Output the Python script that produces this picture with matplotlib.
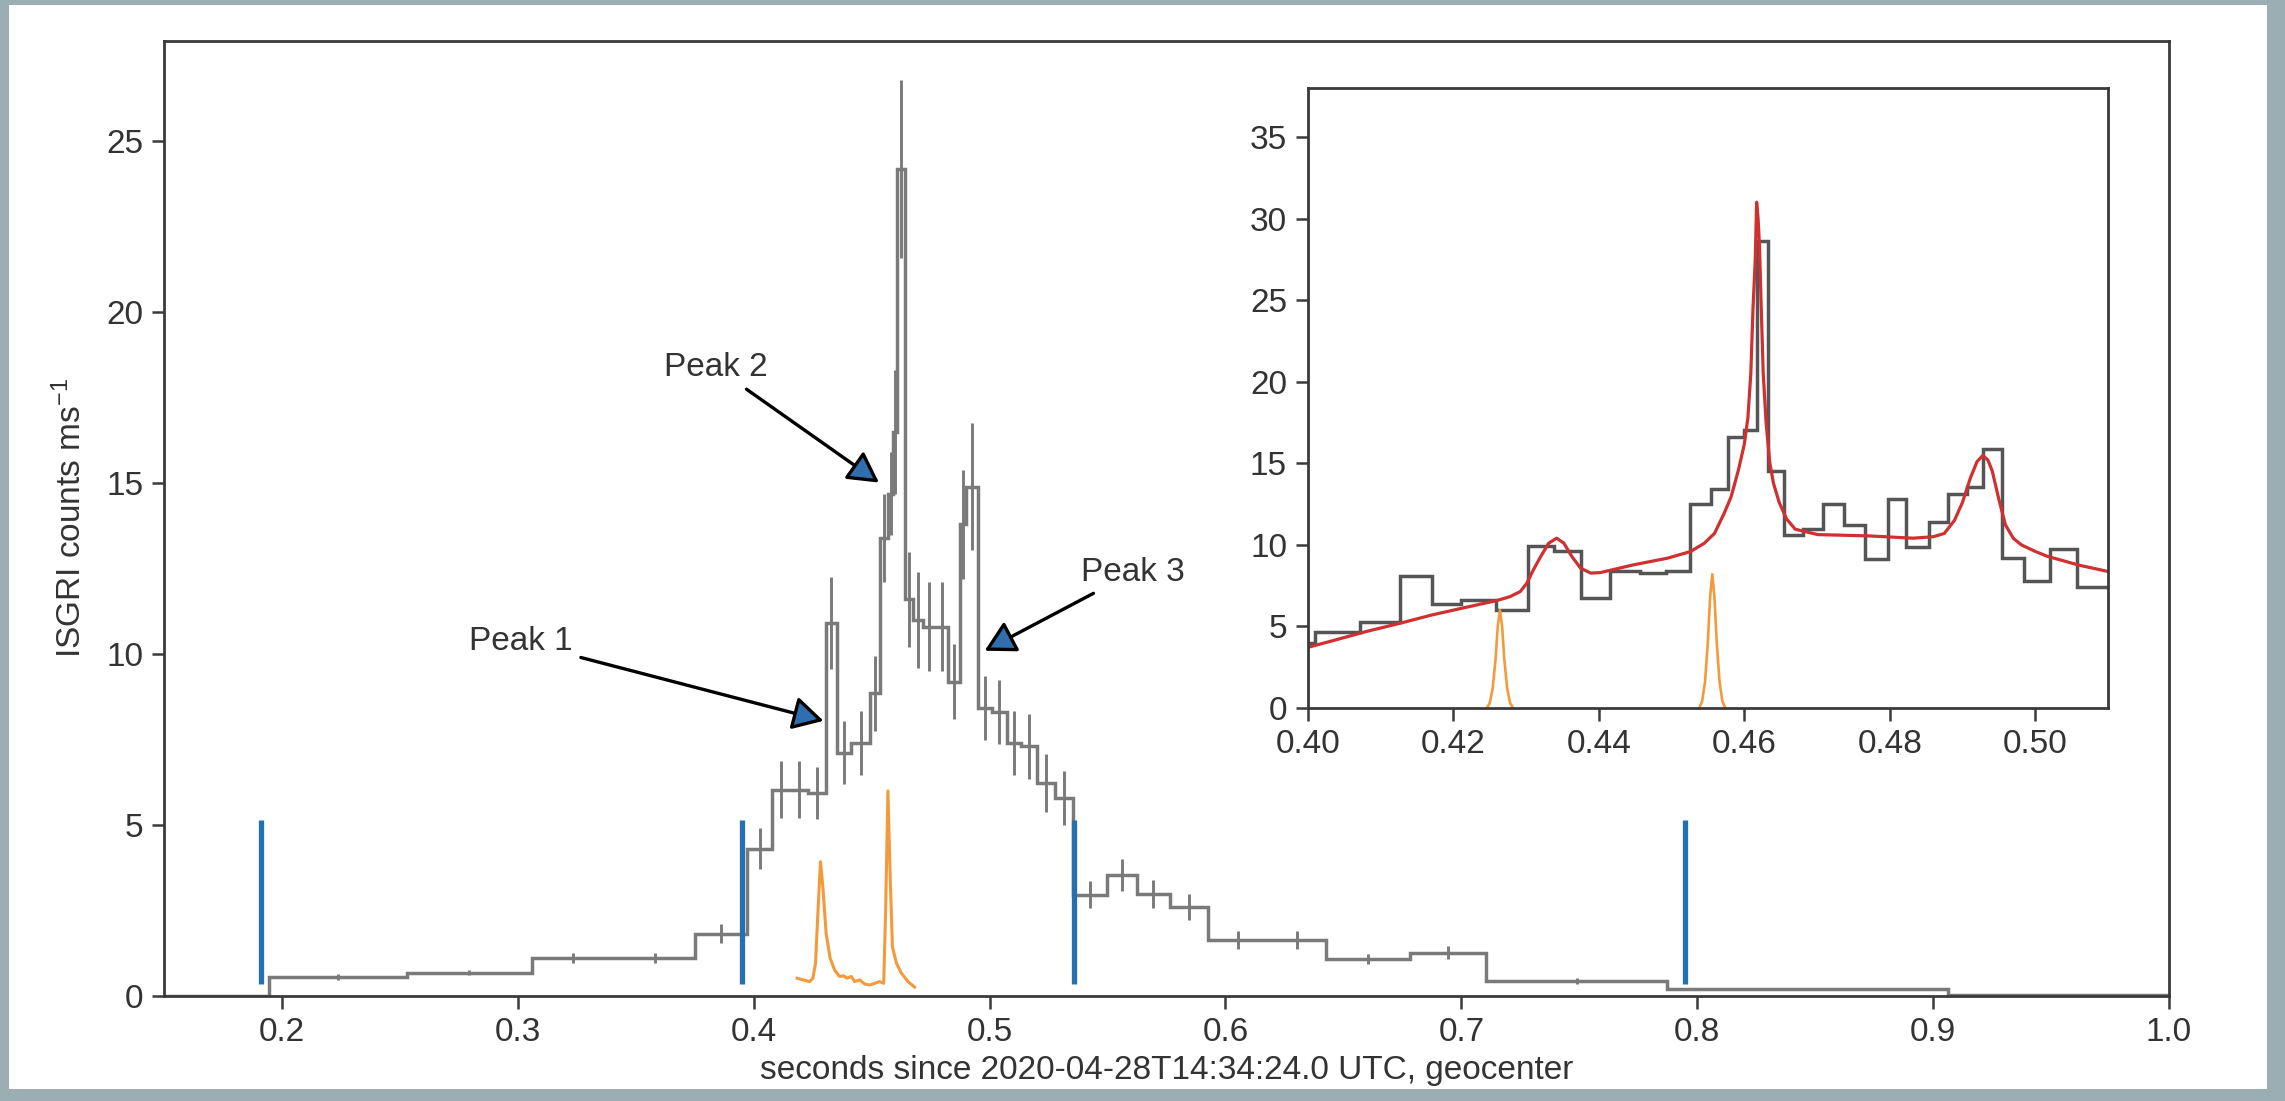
import matplotlib
matplotlib.use("Agg")
import matplotlib.pyplot as plt
from matplotlib.patches import Rectangle
import numpy as np

plt.rcParams['font.family'] = ['Liberation Sans', 'DejaVu Sans']
plt.rcParams['mathtext.fontset'] = 'custom'
plt.rcParams['mathtext.rm'] = 'Liberation Sans'
plt.rcParams['mathtext.it'] = 'Liberation Sans:italic'
plt.rcParams['mathtext.bf'] = 'Liberation Sans:bold'

# ISGRI light curve (variable width blocks)
edges = [0.140, 0.1945, 0.2528, 0.3058, 0.341, 0.375, 0.397, 0.4079, 0.4153,
         0.4231, 0.4305, 0.4351, 0.4414, 0.4492, 0.4534, 0.4570, 0.4592, 0.4609,
         0.4643, 0.4676, 0.4718, 0.4772, 0.4824, 0.4874, 0.4901, 0.4951, 0.5010,
         0.5072, 0.5132, 0.5199, 0.5277, 0.5354, 0.5496, 0.5623, 0.5764, 0.5927,
         0.6178, 0.6426, 0.6782, 0.7104, 0.7874, 0.9064, 1.02]
rate = [0.0, 0.56, 0.68, 1.10, 1.10, 1.82, 4.30, 6.03, 6.03, 5.95, 10.92, 7.12,
        7.40, 8.86, 13.4, 14.7, 16.5, 24.2, 11.6, 11.0, 10.8, 10.8, 9.2, 13.8,
        14.9, 8.42, 8.3, 7.4, 7.3, 6.22, 5.79, 2.96, 3.54, 2.98, 2.60, 1.64,
        1.64, 1.08, 1.27, 0.44, 0.20, 0.04]
rate_err = [0, 0.08, 0.08, 0.15, 0.15, 0.28, 0.6, 0.83, 0.83, 0.76, 1.34, 0.93,
            0.93, 1.1, 1.3, 1.2, 1.8, 2.6, 1.38, 1.4, 1.3, 1.3, 1.1, 1.6,
            1.85, 0.93, 0.93, 0.95, 0.95, 0.85, 0.8, 0.4, 0.47, 0.4, 0.37, 0.27,
            0.27, 0.15, 0.2, 0.1, 0, 0]

# radio bursts (scaled), drawn under the light curve
radio_t = [0.4184, 0.4209, 0.4237, 0.4251, 0.4262, 0.4272, 0.4283, 0.4293,
           0.4307, 0.4324, 0.4343, 0.4364, 0.4381, 0.4395, 0.4414, 0.4428,
           0.4449, 0.4470, 0.4492, 0.4513, 0.4534, 0.4551, 0.4559, 0.4569,
           0.4579, 0.4588, 0.4605, 0.4626, 0.4654, 0.4682]
radio_v = [0.52, 0.47, 0.42, 0.52, 0.96, 2.42, 3.93, 3.20, 1.83, 1.10, 0.76,
           0.57, 0.59, 0.52, 0.57, 0.42, 0.47, 0.35, 0.32, 0.37, 0.42, 0.37,
           2.42, 6.00, 3.39, 1.44, 0.96, 0.67, 0.42, 0.26]

# block boundaries
block_t = [0.191, 0.395, 0.5357, 0.795]
block_lo, block_hi = 0.35, 5.15

# zoomed light curve
in_edges = [0.3978, 0.4010, 0.4071, 0.4127, 0.4170, 0.4211, 0.4259, 0.4303,
            0.4338, 0.4376, 0.4416, 0.4456, 0.4492, 0.4526, 0.4554, 0.4577,
            0.4600, 0.4617, 0.4633, 0.4655, 0.4681, 0.4708, 0.4737, 0.4766,
            0.4797, 0.4823, 0.4854, 0.4880, 0.4906, 0.4928, 0.4954, 0.4985,
            0.5020, 0.5058, 0.5120]
in_rate = [4.0, 4.66, 5.27, 8.12, 6.4, 6.6, 6.03, 9.96, 9.65, 6.72, 8.39, 8.25,
           8.39, 12.53, 13.42, 16.6, 17.06, 28.62, 14.52, 10.63, 11.0, 12.52,
           11.23, 9.12, 12.82, 9.86, 11.42, 13.09, 13.56, 15.89, 9.18, 7.81,
           9.72, 7.4]

# model fit
fit_t = [0.4000, 0.4040, 0.4081, 0.4127, 0.4170, 0.4215, 0.4260, 0.4278,
         0.4292, 0.4301, 0.4310, 0.4320, 0.4331, 0.4342, 0.4352, 0.4363,
         0.4375, 0.4389, 0.4402, 0.4448, 0.4494, 0.4526, 0.4545, 0.4559,
         0.4572, 0.4582, 0.4592, 0.4600, 0.4605, 0.4609, 0.4612, 0.4615,
         0.4617, 0.4619, 0.4621, 0.4623, 0.4626, 0.4630, 0.4635, 0.4640,
         0.4648, 0.4658, 0.4670, 0.4701, 0.4771, 0.4832, 0.4860, 0.4875,
         0.4889, 0.4900, 0.4911, 0.4920, 0.4928, 0.4935, 0.4941, 0.4950,
         0.4959, 0.4970, 0.4981, 0.5000, 0.5016, 0.5060, 0.5102]
fit_v = [3.72, 4.20, 4.70, 5.20, 5.70, 6.15, 6.59, 6.83, 7.14, 7.65, 8.47,
         9.28, 10.10, 10.41, 10.10, 9.28, 8.57, 8.27, 8.30, 8.78, 9.18, 9.59,
         10.10, 10.70, 11.90, 12.96, 14.60, 16.16, 17.80, 20.54, 24.50, 27.39,
         31.00, 30.00, 28.20, 25.00, 20.54, 17.50, 15.06, 13.80, 12.60, 11.60,
         10.96, 10.63, 10.55, 10.41, 10.50, 10.70, 11.50, 12.60, 14.11, 15.10,
         15.48, 15.20, 14.52, 12.80, 11.23, 10.40, 10.00, 9.60, 9.31, 8.76,
         8.35]

# radio pulses in the zoomed panel
pulse_t = [0.4246, 0.4250, 0.4254, 0.4258, 0.4261, 0.4264, 0.4267, 0.4270,
           0.4274, 0.4278, 0.4282]
pulse_v = [0.0, 0.3, 1.2, 3.0, 5.0, 6.0, 5.0, 3.0, 1.2, 0.3, 0.0]
pulse2_t = [0.4538, 0.4542, 0.4546, 0.4550, 0.4553, 0.4556, 0.4559, 0.4562,
            0.4566, 0.4570, 0.4574]
pulse2_v = [0.0, 0.4, 1.6, 4.1, 6.8, 8.2, 6.8, 4.1, 1.6, 0.4, 0.0]

peaks = ['Peak 1', 'Peak 2', 'Peak 3']
peak_text = [(0.3013, 10.36), (0.384, 18.38), (0.5608, 12.39)]
peak_tip = [(0.4296, 8.05), (0.4531, 15.02), (0.4979, 10.1)]

txt = '#333333'
spine = '#3a3a3a'
fs = 24

fig = plt.figure(figsize=(22.85, 11.01), dpi=100, facecolor='#9aaeb4')
fig.add_artist(Rectangle((0.0039, 0.0109), 0.9882, 0.9846, transform=fig.transFigure,
                         facecolor='white', edgecolor='none', zorder=-10))

ax = fig.add_axes([0.0718, 0.0954, 0.8774, 0.8674])
centers = [(edges[i] + edges[i + 1]) / 2 for i in range(len(rate))]
ax.stairs(rate, edges, baseline=None, color='#7a7a7a', lw=2.5)
ax.errorbar(centers, rate, yerr=rate_err, fmt='none', ecolor='#7a7a7a', elinewidth=2.1)
ax.plot(radio_t, radio_v, color='#f39a3c', lw=2.2)
ax.vlines(block_t, block_lo, block_hi, color='#2470b0', lw=3.8, zorder=4)

for name, xy_t, xy in zip(peaks, peak_text, peak_tip):
    ax.annotate(name, xy=xy, xytext=xy_t, ha='center', va='center', fontsize=fs,
                color=txt,
                arrowprops=dict(arrowstyle='-|>,head_length=0.6,head_width=0.33',
                                fc='#2f6fb0', ec='black', lw=2.4, mutation_scale=31,
                                shrinkA=4, shrinkB=0))

ax.set_xlim(0.15, 1.0)
ax.set_ylim(0, 27.94)
ax.set_xticks(np.arange(0.2, 1.01, 0.1))
ax.set_xticklabels(['0.2', '0.3', '0.4', '0.5', '0.6', '0.7', '0.8', '0.9', '1.0'])
ax.set_yticks([0, 5, 10, 15, 20, 25])
ax.set_xlabel('seconds since 2020-04-28T14:34:24.0 UTC, geocenter', fontsize=fs,
              color=txt, labelpad=5)
ax.set_ylabel('ISGRI counts ms$^{-1}$', fontsize=fs, color=txt, labelpad=13)

# zoom on the three peaks
ins = fig.add_axes([0.5724, 0.3569, 0.3501, 0.5632])
ins.stairs(in_rate, in_edges, baseline=None, color='#555555', lw=2.5)
ins.plot(fit_t, fit_v, color='#d03030', lw=2.3)
ins.plot(pulse_t, pulse_v, color='#f39a3c', lw=1.9)
ins.plot(pulse2_t, pulse2_v, color='#f39a3c', lw=1.9)
ins.set_xlim(0.40, 0.51)
ins.set_ylim(0, 38)
ins.set_xticks([0.40, 0.42, 0.44, 0.46, 0.48, 0.50])
ins.set_xticklabels(['0.40', '0.42', '0.44', '0.46', '0.48', '0.50'])
ins.set_yticks([0, 5, 10, 15, 20, 25, 30, 35])

for a in (ax, ins):
    for s in a.spines.values():
        s.set_color(spine)
        s.set_linewidth(2)
    a.tick_params(direction='out', length=9, width=1.8, color=spine, pad=6,
                  labelsize=fs, labelcolor=txt)

fig.savefig('out.png', dpi=100, facecolor=fig.get_facecolor())
